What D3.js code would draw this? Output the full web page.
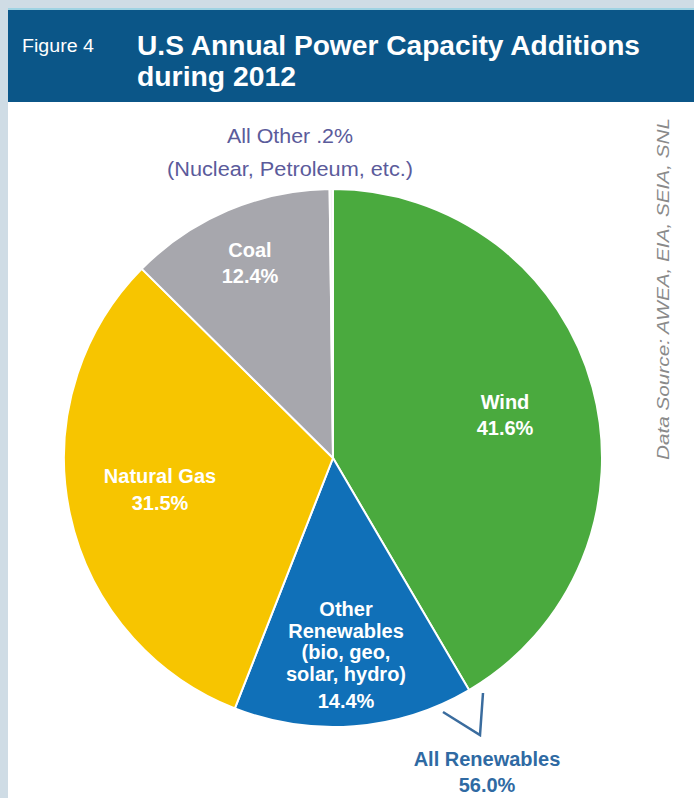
<!DOCTYPE html>
<html>
<head>
<meta charset="utf-8">
<script src="https://cdn.jsdelivr.net/npm/d3@7"></script>
<style>
  body { margin: 0; background: #cfdce5; }
  svg { display: block; }
  text { font-family: "Liberation Sans", Arial, sans-serif; }
</style>
</head>
<body>
<div id="chart"></div>
<script>
// slice data, in draw order clockwise from 12 o'clock
const categories = ["Wind", "Other Renewables", "Natural Gas", "Coal", "All Other"];
const shares = [41.6, 14.4, 31.5, 12.4, 0.2];
const colors = ["#4aaa3e", "#1070b8", "#f7c500", "#a7a7ad", "#f4f4f4"];

// label lines shown inside slices
const sliceLabels = [
  ["Wind", "41.6%"],
  ["Other", "Renewables", "(bio, geo,", "solar, hydro)", "14.4%"],
  ["Natural Gas", "31.5%"],
  ["Coal", "12.4%"],
  []
];

const width = 694;
const height = 798;

const svg = d3.select("#chart")
  .append("svg")
  .attr("width", width)
  .attr("height", height);

// white panel + header band
svg.append("rect")
  .attr("x", 8).attr("y", 8)
  .attr("width", width - 8).attr("height", height - 8)
  .attr("fill", "#ffffff");

svg.append("rect")
  .attr("x", 8).attr("y", 8)
  .attr("width", width - 8).attr("height", 2)
  .attr("fill", "#9fd3e3");

svg.append("rect")
  .attr("x", 8).attr("y", 10)
  .attr("width", width - 8).attr("height", 92)
  .attr("fill", "#0b5688");

svg.append("text")
  .attr("x", 22).attr("y", 52)
  .attr("fill", "#ffffff")
  .style("font-size", "18px")
  .attr("textLength", 72)
  .attr("lengthAdjust", "spacingAndGlyphs")
  .text("Figure 4");

const title = svg.append("text")
  .attr("fill", "#ffffff")
  .style("font-size", "27px")
  .style("font-weight", "bold");
title.append("tspan").attr("x", 137).attr("y", 55)
  .attr("textLength", 503).attr("lengthAdjust", "spacingAndGlyphs")
  .text("U.S Annual Power Capacity Additions");
title.append("tspan").attr("x", 137).attr("y", 86)
  .attr("textLength", 159).attr("lengthAdjust", "spacingAndGlyphs")
  .text("during 2012");

// data source, rotated
svg.append("text")
  .attr("transform", "translate(669,460) rotate(-90)")
  .attr("fill", "#8a8a8a")
  .style("font-size", "17px")
  .style("font-style", "italic")
  .attr("textLength", 342)
  .attr("lengthAdjust", "spacingAndGlyphs")
  .text("Data Source: AWEA, EIA, SEIA, SNL");

// pie
const cx = 333, cy = 458;
const radius = 269;

const pie = d3.pie().sort(null).value(d => d);
const arcs = pie(shares);

const arc = d3.arc().innerRadius(0).outerRadius(radius);

const g = svg.append("g")
  .attr("transform", `translate(${cx},${cy})`);

g.selectAll("path")
  .data(arcs)
  .join("path")
  .attr("d", arc)
  .attr("fill", (d, i) => colors[i])
  .attr("stroke", "#ffffff")
  .attr("stroke-width", 2);

// label baselines (manual placement like the print figure)
const labelLines = [
  [[505, 409], [505, 435]],
  [[346, 616], [346, 638], [346, 659], [346, 681], [346, 708]],
  [[160, 483], [160, 510]],
  [[250, 257], [250, 283]]
];

labelLines.forEach((lines, i) => {
  const t = svg.append("text")
    .attr("text-anchor", "middle")
    .attr("fill", "#ffffff")
    .style("font-size", "20px")
    .style("font-weight", "bold");
  sliceLabels[i].forEach((line, j) => {
    t.append("tspan")
      .attr("x", lines[j][0])
      .attr("y", lines[j][1])
      .text(line);
  });
});

// all other label
const other = svg.append("text")
  .attr("text-anchor", "middle")
  .attr("fill", "#5b5b9b")
  .style("font-size", "20px");
other.append("tspan").attr("x", 290).attr("y", 143)
  .attr("textLength", 126).attr("lengthAdjust", "spacingAndGlyphs")
  .text("All Other .2%");
other.append("tspan").attr("x", 290).attr("y", 176)
  .attr("textLength", 246).attr("lengthAdjust", "spacingAndGlyphs")
  .text("(Nuclear, Petroleum, etc.)");

// all renewables bracket
svg.append("path")
  .attr("d", "M443,712 L480,735 L483,693")
  .attr("fill", "none")
  .attr("stroke", "#3a6c9e")
  .attr("stroke-width", 2.5);

const ren = svg.append("text")
  .attr("text-anchor", "middle")
  .attr("fill", "#2f6aa3")
  .style("font-size", "20px")
  .style("font-weight", "bold");
ren.append("tspan").attr("x", 487).attr("y", 766).text("All Renewables");
ren.append("tspan").attr("x", 487).attr("y", 792).text("56.0%");
</script>
</body>
</html>
